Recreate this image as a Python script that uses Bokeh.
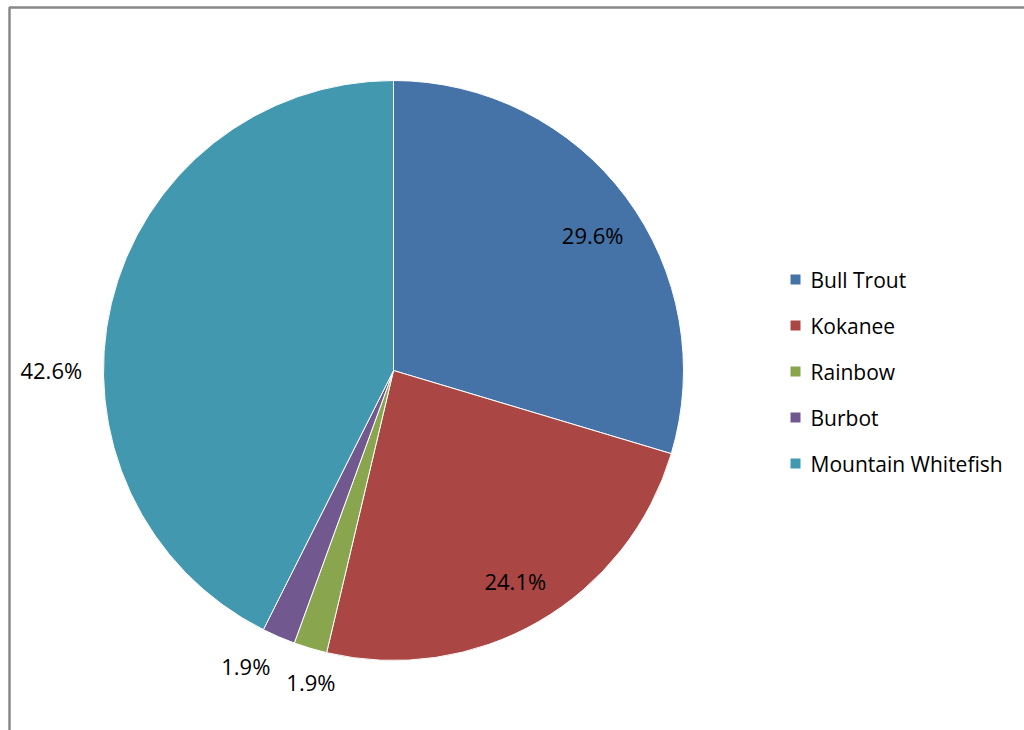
import math
from bokeh.plotting import figure
from bokeh.models import Range1d, BoxAnnotation, ColumnDataSource
from bokeh.core.properties import value
from bokeh.embed import file_html
from bokeh.resources import INLINE

# ---- data ----
species = ["Bull Trout", "Kokanee", "Rainbow", "Burbot", "Mountain Whitefish"]
counts = [16, 13, 1, 1, 23]
colors = ["#4572A7", "#AA4643", "#89A54E", "#71588F", "#4198AF"]

# ---- layout ----
W, H = 1024, 730
CX, CY_DOWN, R = 393, 370, 290
CY = H - CY_DOWN
label_rfac = [0.83, 0.84, 1.11, 1.14, 1.18]
label_angle_shift = [2.5, 0.0, -1.8, 3.2, -13.3]  # degrees
FONT = "Open Sans"

p = figure(width=W, height=H, output_backend="svg", toolbar_location=None,
           x_range=Range1d(0, W), y_range=Range1d(0, H), min_border=0)
p.axis.visible = False
p.grid.visible = False
p.outline_line_color = None
p.background_fill_color = "white"
p.border_fill_color = "white"

# chart frame
p.add_layout(BoxAnnotation(left=9, right=W + 50, top=H - 7, bottom=-50,
                           fill_alpha=0, line_color="#888888", line_alpha=1.0,
                           line_width=2.5))

total = float(sum(counts))
starts, ends, lx, ly, labels = [], [], [], [], []
cum = 0.0
for i, c in enumerate(counts):
    f0 = cum / total
    cum += c
    f1 = cum / total
    starts.append(math.pi / 2 - f0 * 2 * math.pi)
    ends.append(math.pi / 2 - f1 * 2 * math.pi)
    mid = (f0 + f1) / 2 * 360.0 + label_angle_shift[i]
    th = math.radians(mid)
    rr = R * label_rfac[i]
    lx.append(CX + rr * math.sin(th))
    ly.append(CY + rr * math.cos(th))
    labels.append(f"{c / total * 100:.1f}%")

src = ColumnDataSource(dict(start=starts, end=ends, color=colors,
                            x=[CX] * len(counts), y=[CY] * len(counts)))
p.wedge(x="x", y="y", radius=R, start_angle="start", end_angle="end",
        direction="clock", fill_color="color", line_color="white",
        line_width=1, source=src)

p.text(x=lx, y=ly, text=labels, text_font=value(FONT), text_font_size="22px",
       text_color="#000000", text_align="center", text_baseline="middle")

# legend (manual)
LEG_X, LEG_Y0, LEG_DY = 795, H - 279, 46
lgx = [LEG_X] * len(species)
lgy = [LEG_Y0 - i * LEG_DY for i in range(len(species))]
p.rect(x=lgx, y=lgy, width=10, height=10, width_units="screen",
       height_units="screen", fill_color=colors, line_color=None)
p.text(x=[LEG_X + 15] * len(species), y=lgy, text=species,
       text_font=value(FONT), text_font_size="21px", text_color="#000000",
       text_align="left", text_baseline="middle")

open("out.html", "w").write(file_html(p, INLINE))
